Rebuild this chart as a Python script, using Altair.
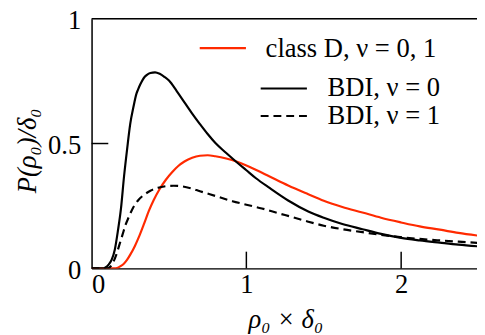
import altair as alt
import pandas as pd

# ---- data ----
x_bdi0 = [0, 0.07, 0.09, 0.11, 0.13, 0.15, 0.17, 0.19, 0.21, 0.23, 0.25, 0.27, 0.29, 0.30, 0.315,
          0.33, 0.345, 0.36, 0.38, 0.41, 0.44, 0.47, 0.5, 0.55, 0.6, 0.65, 0.7, 0.75, 0.8, 0.87,
          0.94, 1.0, 1.06, 1.15, 1.27, 1.4, 1.5, 1.62, 1.75, 1.87, 2.0, 2.12, 2.25, 2.37, 2.5]
y_bdi0 = [0, 0, 0.004, 0.015, 0.035, 0.075, 0.15, 0.24, 0.37, 0.48, 0.58, 0.645, 0.70, 0.716, 0.737,
          0.755, 0.768, 0.776, 0.782, 0.785, 0.779, 0.767, 0.752, 0.71, 0.665, 0.62, 0.578, 0.538, 0.502, 0.462,
          0.424, 0.393, 0.362, 0.322, 0.272, 0.228, 0.203, 0.178, 0.157, 0.138, 0.122, 0.112, 0.103, 0.095, 0.088]

x_d = [0, 0.15, 0.17, 0.19, 0.21, 0.23, 0.25, 0.28, 0.31, 0.34, 0.37, 0.40, 0.44, 0.48, 0.52,
       0.56, 0.6, 0.65, 0.7, 0.75, 0.8, 0.87, 0.94, 1.0, 1.06, 1.15, 1.27, 1.4, 1.5, 1.62,
       1.75, 1.87, 2.0, 2.12, 2.25, 2.37, 2.5]
y_d = [0, 0, 0.003, 0.01, 0.02, 0.035, 0.055, 0.09, 0.132, 0.18, 0.23, 0.272, 0.318, 0.355, 0.385,
       0.41, 0.428, 0.443, 0.451, 0.453, 0.449, 0.44, 0.427, 0.412, 0.395, 0.368, 0.332, 0.297, 0.271, 0.246,
       0.224, 0.203, 0.184, 0.168, 0.155, 0.142, 0.131]

x_bdi1 = [0, 0.1, 0.12, 0.14, 0.16, 0.18, 0.2, 0.22, 0.24, 0.27, 0.3, 0.34, 0.38, 0.43, 0.48,
          0.53, 0.58, 0.64, 0.7, 0.8, 0.91, 1.0, 1.1, 1.2, 1.3, 1.4, 1.5, 1.62, 1.75, 1.87,
          2.0, 2.12, 2.25, 2.37, 2.5]
y_bdi1 = [0, 0, 0.006, 0.025, 0.055, 0.095, 0.135, 0.175, 0.205, 0.245, 0.272, 0.295, 0.311, 0.323, 0.329,
          0.331, 0.329, 0.321, 0.309, 0.29, 0.269, 0.255, 0.24, 0.222, 0.205, 0.187, 0.171, 0.157, 0.145, 0.134,
          0.125, 0.118, 0.112, 0.107, 0.102]

series_names = ["class D, ν = 0, 1", "BDI, ν = 0", "BDI, ν = 1"]
x_tick_values = [0, 1, 2]
y_tick_values = [0, 0.5, 1]
x_inner_ticks = [1, 2]
y_inner_ticks = [0.5]

W, H = 392, 254
XMAX = 2.49
FONT = "Liberation Serif, DejaVu Serif, serif"
FS = 27
RED = "#ff2a00"

df_d = pd.DataFrame({"x": x_d, "y": y_d})
df_b0 = pd.DataFrame({"x": x_bdi0, "y": y_bdi0})
df_b1 = pd.DataFrame({"x": x_bdi1, "y": y_bdi1})

xscale = alt.Scale(domain=[0, XMAX], nice=False, zero=False)
yscale = alt.Scale(domain=[0, 1], nice=False, zero=False)

xaxis = alt.Axis(values=x_tick_values, ticks=False, tickSize=0, grid=False, domain=True,
                 domainColor="black", domainWidth=1.5, labelFont=FONT, labelFontSize=FS,
                 labelColor="black", labelPadding=4, labelExpr="datum.value",
                 title="ρ₀ × δ₀", titleFont=FONT, titleFontSize=FS, titleFontStyle="italic",
                 titleFontWeight="normal", titleColor="black", titleX=197, titleY=60,
                 titleBaseline="alphabetic", titleAlign="center")
yaxis = alt.Axis(values=y_tick_values, ticks=False, tickSize=0, grid=False, domain=True,
                 domainColor="black", domainWidth=1.5, labelFont=FONT, labelFontSize=FS,
                 labelColor="black", labelPadding=11, labelOffset=2, labelExpr="datum.value",
                 title="P(ρ₀)/δ₀", titleFont=FONT, titleFontSize=FS, titleFontStyle="italic",
                 titleFontWeight="normal", titleColor="black", titleX=-57, titleY=134,
                 titleAngle=270, titleBaseline="alphabetic", titleAlign="center")

base_red = alt.Chart(df_d).mark_line(color=RED, strokeWidth=2.2, interpolate="monotone", clip=True).encode(
    x=alt.X("x:Q", scale=xscale, axis=xaxis),
    y=alt.Y("y:Q", scale=yscale, axis=yaxis),
)
line_b0 = alt.Chart(df_b0).mark_line(color="black", strokeWidth=2.2, interpolate="monotone", clip=True).encode(
    x=alt.X("x:Q", scale=xscale), y=alt.Y("y:Q", scale=yscale))
line_b1 = alt.Chart(df_b1).mark_line(color="black", strokeWidth=2.2, strokeDash=[8, 5],
                                     interpolate="monotone", clip=True).encode(
    x=alt.X("x:Q", scale=xscale), y=alt.Y("y:Q", scale=yscale))

# inward ticks
xt = alt.Chart(pd.DataFrame({"t": x_inner_ticks})).mark_rule(color="black", strokeWidth=1.5).encode(
    x=alt.X("t:Q", scale=xscale), y=alt.value(H), y2=alt.value(H - 17))
yt = alt.Chart(pd.DataFrame({"t": y_inner_ticks})).mark_rule(color="black", strokeWidth=1.5).encode(
    y=alt.Y("t:Q", scale=yscale), x=alt.value(0), x2=alt.value(17))

# top frame line
top = alt.Chart(pd.DataFrame({"t": [1]})).mark_rule(color="black", strokeWidth=1.5).encode(
    y=alt.Y("t:Q", scale=yscale), x=alt.value(0), x2=alt.value(W))

# legend
leg_df = pd.DataFrame({"name": series_names})
def leg_line(i, x0, x1, yy, color, dash=None):
    kw = dict(color=color, strokeWidth=2.2)
    if dash:
        kw["strokeDash"] = dash
    return alt.Chart(leg_df).transform_filter(alt.datum.name == series_names[i]).mark_rule(**kw).encode(
        x=alt.value(x0), x2=alt.value(x1), y=alt.value(yy))

def leg_text(i, x0, yy):
    return alt.Chart(leg_df).transform_filter(alt.datum.name == series_names[i]).mark_text(
        align="left", baseline="middle", font=FONT, fontSize=FS, color="black").encode(
        x=alt.value(x0), y=alt.value(yy), text="name:N")

legend = (leg_line(0, 110, 157, 30, RED) + leg_text(0, 177, 31)
          + leg_line(1, 172, 219, 71, "black") + leg_text(1, 240, 71)
          + leg_line(2, 172, 219, 99, "black", [8, 5]) + leg_text(2, 240, 99))

chart = alt.layer(base_red, line_b0, line_b1, xt, yt, top, legend).properties(
    width=W, height=H,
    autosize=alt.AutoSizeParams(type="none"),
    padding={"left": 85, "top": 8, "right": 0, "bottom": 70},
).configure_view(stroke=None).configure(background="white")

chart.save("out.html", embed_options={"renderer": "svg", "actions": False})
